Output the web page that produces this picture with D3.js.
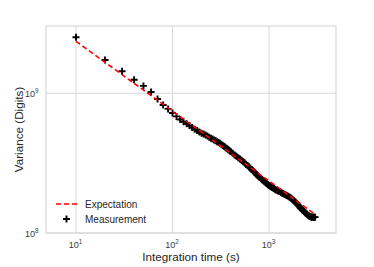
<!DOCTYPE html>
<html><head><meta charset="utf-8">
<script src="https://cdn.jsdelivr.net/npm/d3@7"></script>
<style>body{margin:0;background:#fff}svg{display:block}</style>
</head><body><svg id="c" width="374" height="267"></svg>
<script>
// ---- data ----
const tauMeas = [10,20,30,40,50,60,70,80,90,100,110,120,130,140,150,160,170,180,190,200,
  210,220,230,240,250,260,270,280,290,300,310,320,330,340,350,360,370,380,390,400,
  420,440,460,480,500,520,540,560,580,600,620,640,660,680,700,720,740,760,780,800,
  825,850,875,900,925,950,975,1000,1025,1050,1075,1100,1125,1150,1175,1200,
  1240,1280,1320,1360,1400,1440,1480,1520,1560,1600,1640,1680,1720,1760,1800,1840,1880,1920,1960,2000,
  2050,2100,2150,2200,2250,2300,2350,2400,2450,2500,2550,2600,2650,2700,2750,2800,2850,2900,2950,3000];
// variance in units of 1e8 digits
const varMeas = [25.2,17.3,14.37,12.5,11.29,10.21,9.09,8.25,7.73,7.23,
  6.83,6.49,6.26,6.05,5.86,5.68,5.53,5.41,5.28,5.17,
  5.12,5.03,4.94,4.853,4.775,4.702,4.633,4.568,4.506,4.446,4.388,4.317,4.25,4.183,4.122,4.062,4.0,3.939,3.879,3.823,
  3.715,3.622,3.536,3.457,3.382,3.313,3.238,3.166,3.098,3.033,2.972,2.912,2.851,2.793,2.738,2.684,2.634,2.585,2.54,2.496,
  2.448,2.405,2.364,2.325,2.287,2.25,2.216,2.183,2.16,2.139,2.118,2.098,2.079,2.06,2.042,2.025,
  2.001,1.979,1.958,1.937,1.917,1.897,1.876,1.857,1.838,1.82,1.803,1.781,1.755,1.729,1.705,1.681,1.659,1.635,1.609,1.583,
  1.552,1.523,1.495,1.469,1.448,1.427,1.407,1.387,1.368,1.35,1.337,1.326,1.315,1.305,1.295,1.295,1.296,1.297,1.298,1.299];
const tauExp = [10, 3000];
const varExp = [23.55, 1.36];   // units of 1e8
const UNIT = 1e8;
const xTicks = [10, 100, 1000];
const yTicks = [1e8, 1e9];
const xLabel = "Integration time (s)";
const yLabel = "Variance (Digits)";
const legendLabels = ["Expectation", "Measurement"];

// ---- layout ----
const m = {left: 46, right: 336, top: 26, bottom: 233};
const FONT = "'Liberation Sans', Arial, sans-serif";
const TXT = "#262626", GRID = "#d9d9d9";

const svg = d3.select("#c");
const x = d3.scaleLog().domain([4.89, 4940]).range([m.left, m.right]);
const y = d3.scaleLog().domain([1e8, 3.03e9]).range([m.bottom, m.top]);

// grid
const g = svg.append("g");
g.selectAll(".vg").data(xTicks).join("line")
  .attr("x1", d => x(d)).attr("x2", d => x(d)).attr("y1", m.top).attr("y2", m.bottom)
  .attr("stroke", GRID).attr("stroke-width", 1);
g.selectAll(".hg").data(yTicks).join("line")
  .attr("x1", m.left).attr("x2", m.right).attr("y1", d => y(d)).attr("y2", d => y(d))
  .attr("stroke", GRID).attr("stroke-width", 1);
svg.append("rect").attr("x", m.left).attr("y", m.top)
  .attr("width", m.right - m.left).attr("height", m.bottom - m.top)
  .attr("fill", "none").attr("stroke", GRID).attr("stroke-width", 1.2);

// tick labels with superscripts
function supLabel(sel, v) {
  const e = Math.round(Math.log10(v));
  sel.append("tspan").text("10");
  sel.append("tspan").attr("font-size", 6.3).attr("dy", -3.8).text(e);
}
svg.append("g").selectAll("text").data(xTicks).join("text")
  .attr("x", d => x(d) - 0.5).attr("y", 248)
  .attr("text-anchor", "middle").attr("font-family", FONT).attr("font-size", 9)
  .attr("fill", "#3a3a3a").each(function(d){ supLabel(d3.select(this), d); });
svg.append("g").selectAll("text").data(yTicks).join("text")
  .attr("x", 38.5).attr("y", d => y(d) + 3.5)
  .attr("text-anchor", "end").attr("font-family", FONT).attr("font-size", 9)
  .attr("fill", "#3a3a3a").each(function(d){ supLabel(d3.select(this), d); });

// axis labels
svg.append("text").attr("x", (m.left + m.right) / 2).attr("y", 261)
  .attr("text-anchor", "middle").attr("font-family", FONT).attr("font-size", 11.7)
  .attr("fill", TXT).text(xLabel);
svg.append("text").attr("transform", `translate(22.5,${(m.top + m.bottom) / 2}) rotate(-90)`)
  .attr("text-anchor", "middle").attr("font-family", FONT).attr("font-size", 11.7)
  .attr("fill", TXT).text(yLabel);

// measurement markers
const meas = tauMeas.map((t, i) => [t, varMeas[i] * UNIT]);
const arm = 3.5;
const mg = svg.append("g").attr("stroke", "#000").attr("stroke-width", 1.9);
mg.selectAll("path").data(meas).join("path")
  .attr("d", d => {
    const cx = x(d[0]), cy = y(d[1]);
    return `M${cx - arm},${cy}H${cx + arm}M${cx},${cy - arm}V${cy + arm}`;
  });

// expectation (drawn on top of the markers)
const expData = tauExp.map((t, i) => [t, varExp[i] * UNIT]);
svg.append("path").datum(expData)
  .attr("d", d3.line().x(d => x(d[0])).y(d => y(d[1])))
  .attr("fill", "none").attr("stroke", "#ff0000").attr("stroke-width", 1.6)
  .attr("stroke-dasharray", "5,3");

// legend
const lg = svg.append("g");
lg.append("line").attr("x1", 56).attr("x2", 77).attr("y1", 204).attr("y2", 204)
  .attr("stroke", "#ff0000").attr("stroke-width", 1.6).attr("stroke-dasharray", "5,3");
lg.append("path").attr("d", `M${66.5 - arm},219H${66.5 + arm}M66.5,${219 - arm}V${219 + arm}`)
  .attr("stroke", "#000").attr("stroke-width", 1.9);
lg.selectAll("text").data(legendLabels).join("text")
  .attr("x", 85).attr("y", (d, i) => 207.5 + i * 15.3)
  .attr("font-family", FONT).attr("font-size", 10).attr("fill", TXT).text(d => d);
</script></body></html>
